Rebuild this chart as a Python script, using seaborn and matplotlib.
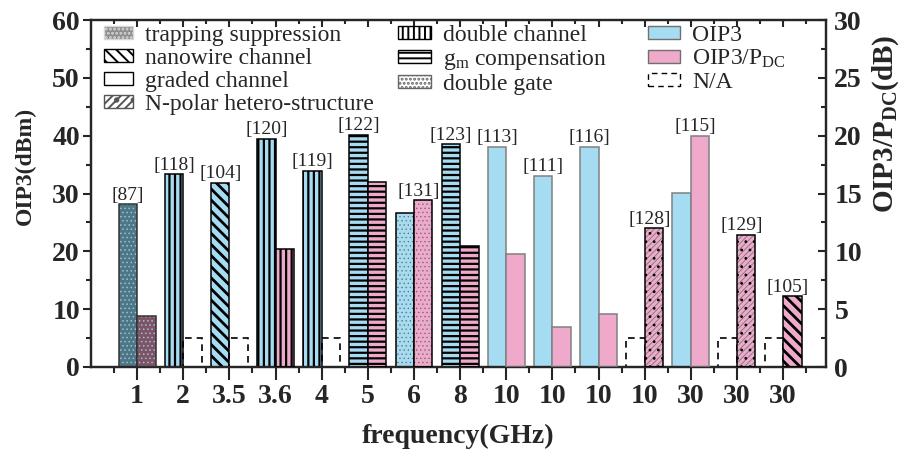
import numpy as np
import pandas as pd
import matplotlib
matplotlib.use("Agg")
import matplotlib.pyplot as plt
from matplotlib.patches import Patch, Rectangle
from matplotlib.ticker import MultipleLocator, FixedLocator
import seaborn as sns

# ---- data -------------------------------------------------------------
freq_labels = ["1", "2", "3.5", "3.6", "4", "5", "6", "8",
               "10", "10", "10", "10", "30", "30", "30"]
oip3_dbm = [28.1, 33.3, 31.8, 39.4, 33.9, 40.1, 26.7, 38.5,
            38.1, 33.0, 38.1, np.nan, 30.1, np.nan, np.nan]
oip3_pdc_db = [4.4, np.nan, np.nan, 10.2, np.nan, 16.0, 14.4, 10.5,
               9.8, 3.5, 4.6, 12.0, 20.0, 11.4, 6.1]
technique = ["trapping", "double_channel", "nanowire", "double_channel",
             "double_channel", "gm", "double_gate", "gm",
             "plain", "plain", "plain", "npolar", "plain", "npolar", "nanowire"]
ref_tags = ["[87]", "[118]", "[104]", "[120]", "[119]", "[122]", "[131]", "[123]",
            "[113]", "[111]", "[116]", "[128]", "[115]", "[129]", "[105]"]
tag_series = ["oip3", "oip3", "oip3", "oip3", "oip3", "oip3", "pdc", "oip3",
              "oip3", "oip3", "oip3", "pdc", "pdc", "pdc", "pdc"]
na_level_dbm = 5.0          # height of the dashed "N/A" placeholder (left scale)

# ---- style ------------------------------------------------------------
sns.set_style("ticks")
plt.rcParams["font.family"] = ["Liberation Serif", "DejaVu Serif"]
plt.rcParams["mathtext.fontset"] = "custom"
plt.rcParams["mathtext.rm"] = "Liberation Serif"
plt.rcParams["mathtext.it"] = "Liberation Serif:italic"
plt.rcParams["mathtext.bf"] = "Liberation Serif:bold"
plt.rcParams["hatch.linewidth"] = 1.4

BLUE = "#a6dcf2"
PINK = "#efa9cb"
DARK = {BLUE: "#4d7686", PINK: "#7d5367"}

# technique -> hatch, hatch colour, hatch width, second hatch, outline colour
STYLE = {
    "plain":          dict(hatch=None, hc="#808080", hlw=1.0, extra=None, outline="#808080"),
    "double_channel": dict(hatch="|||", hc="black", hlw=1.6, extra=None, outline="black"),
    "gm":             dict(hatch="---", hc="black", hlw=1.6, extra=None, outline="black"),
    "nanowire":       dict(hatch="\\\\\\", hc="black", hlw=2.0, extra=None, outline="black"),
    "trapping":       dict(hatch="....", hc="#9fc0cc", hlw=0.6, extra=None, outline="#333333"),
    "npolar":         dict(hatch="//////", hc="#777777", hlw=0.6, extra="..", outline="black"),
    "double_gate":    dict(hatch="....", hc="#666666", hlw=0.4, extra=None, outline="black"),
}

fig = plt.figure(figsize=(9.10, 4.49), dpi=100)
ax = fig.add_axes([91 / 910, 1 - 367 / 449, 735 / 910, 347 / 449])
ax2 = ax.twinx()

slots = np.arange(len(freq_labels))
left_x = slots - 0.2
right_x = slots + 0.2


def set_hatch_width(p, lw):
    if hasattr(p, "set_hatch_linewidth"):
        p.set_hatch_linewidth(lw)


def draw_series(axis, xpos, values, color, shift):
    frame = pd.DataFrame({"x": xpos, "v": values}).dropna()
    sns.barplot(data=frame, x="x", y="v", native_scale=True, width=0.4,
                color=color, saturation=1, errorbar=None, ax=axis, linewidth=0)
    for p in list(axis.patches):
        k = int(round(p.get_x() + p.get_width() / 2 - shift))
        st = STYLE[technique[k]]
        face = DARK[color] if technique[k] == "trapping" else color
        p.set_facecolor(face)
        p.set_linewidth(0)
        if st["hatch"]:
            p.set_hatch(st["hatch"])
            p.set_edgecolor(st["hc"])
            p.set_linewidth(0)
            set_hatch_width(p, st["hlw"])
        p.set_zorder(2)
        if st["extra"]:
            over = Rectangle((p.get_x(), p.get_y()), p.get_width(), p.get_height(),
                             fill=False, hatch=st["extra"], edgecolor="black",
                             linewidth=0, zorder=3)
            set_hatch_width(over, 0.8)
            axis.add_patch(over)
        outline = Rectangle((p.get_x(), p.get_y()), p.get_width(), p.get_height(),
                            fill=False, edgecolor=st["outline"], linewidth=1.1, zorder=4)
        axis.add_patch(outline)


def draw_missing(axis, xpos, values, level):
    frame = pd.DataFrame({"x": xpos, "v": values})
    frame = frame[frame["v"].isna()].assign(v=level)
    n_before = len(axis.patches)
    sns.barplot(data=frame, x="x", y="v", native_scale=True, width=0.4,
                color="black", fill=False, errorbar=None, ax=axis, linewidth=1.2)
    for p in axis.patches[n_before:]:
        p.set_linestyle((0, (4, 3)))
        p.set_edgecolor("black")
        p.set_facecolor("none")


draw_series(ax, left_x, oip3_dbm, BLUE, -0.2)
draw_series(ax2, right_x, oip3_pdc_db, PINK, 0.2)
draw_missing(ax, left_x, oip3_dbm, na_level_dbm)
draw_missing(ax2, right_x, oip3_pdc_db, na_level_dbm / 2)

# reference tags above bars
for k, tag in enumerate(ref_tags):
    if tag_series[k] == "oip3":
        ax.annotate(tag, (left_x[k], oip3_dbm[k]), xytext=(0, 0.5),
                    textcoords="offset points", ha="center", va="bottom",
                    fontsize=14, zorder=6)
    else:
        ax2.annotate(tag, (right_x[k] - 0.1, oip3_pdc_db[k]), xytext=(0, 0.5),
                     textcoords="offset points", ha="center", va="bottom",
                     fontsize=14, zorder=6)

# ---- axes -------------------------------------------------------------
ax.set_xlim(-1.0, 14.93)
ax.set_ylim(0, 60)
ax2.set_ylim(0, 30)

ax.set_xticks(slots, labels=freq_labels, fontsize=20, fontweight="bold")
ax.xaxis.set_minor_locator(FixedLocator(np.append(slots - 0.5, slots[-1] + 0.5)))
ax.set_yticks(np.arange(0, 61, 10), labels=[str(v) for v in range(0, 61, 10)],
              fontsize=20, fontweight="bold")
ax.yaxis.set_minor_locator(MultipleLocator(5))
ax2.set_yticks(np.arange(0, 31, 5), labels=[str(v) for v in range(0, 31, 5)],
               fontsize=20, fontweight="bold")
ax2.yaxis.set_minor_locator(MultipleLocator(2.5))

ax.tick_params(axis="x", which="major", direction="out", length=9, width=1.5, pad=3)
ax.tick_params(axis="x", which="minor", direction="out", length=4, width=1.5)
ax.tick_params(axis="y", which="major", direction="out", length=6, width=1.5, pad=2)
ax.tick_params(axis="y", which="minor", direction="out", length=3.5, width=1.5)
ax2.tick_params(axis="y", which="major", direction="in", length=6, width=1.5, pad=6)
ax2.tick_params(axis="y", which="minor", direction="in", length=3.5, width=1.5)

ax2.xaxis.set_visible(True)
ax2.tick_params(axis="x", which="both", bottom=False, top=True, labelbottom=False,
                labeltop=False, direction="in", width=1.5)
ax2.tick_params(axis="x", which="major", length=5)
ax2.tick_params(axis="x", which="minor", length=3)
ax2.set_xlabel("")

for a in (ax, ax2):
    for s in a.spines.values():
        s.set_linewidth(1.6)
        s.set_visible(True)

ax.set_xlabel("frequency(GHz)", fontsize=20, fontweight="bold", labelpad=11)
ax.set_ylabel("OIP3(dBm)", fontsize=17, fontweight="bold")
ax.yaxis.set_label_coords(-0.075, 0.58)
ax2.set_ylabel(r"OIP3/P$_{\mathbf{DC}}$(dB)", fontsize=21, fontweight="bold")
ax2.yaxis.set_label_coords(1.06, 0.70)

# ---- legends ------------------------------------------------------------
legend_kw = dict(frameon=False, loc="upper left", borderpad=0, borderaxespad=0,
                 fontsize=17, labelspacing=0.08, handletextpad=0.5,
                 handleheight=0.47, bbox_transform=fig.transFigure)

col1 = [
    Patch(facecolor="#8c8c8c", edgecolor="#d6d6d6", hatch="....", label="trapping suppression"),
    Patch(facecolor="white", edgecolor="black", hatch="\\\\\\", label="nanowire channel"),
    Patch(facecolor="white", edgecolor="black", label="graded channel"),
    Patch(facecolor="white", edgecolor="#555555", hatch="////.", label="N-polar hetero-structure"),
]
col2 = [
    Patch(facecolor="white", edgecolor="black", hatch="|||", label="double channel"),
    Patch(facecolor="white", edgecolor="black", hatch="---", label=r"g$_\mathrm{m}$ compensation"),
    Patch(facecolor="white", edgecolor="#666666", hatch="....", label="double gate"),
]
col3 = [
    Patch(facecolor=BLUE, edgecolor="#707070", label="OIP3"),
    Patch(facecolor=PINK, edgecolor="#707070", label=r"OIP3/P$_\mathrm{DC}$"),
    Patch(facecolor="white", edgecolor="black", linestyle=(0, (4, 3)), label="N/A"),
]
anchor_y = 1 - 25 / 449
leg1 = ax2.legend(handles=col1, bbox_to_anchor=(104 / 910, anchor_y),
                  handlelength=1.23, **legend_kw)
ax2.add_artist(leg1)
leg2 = ax2.legend(handles=col2, bbox_to_anchor=(398 / 910, anchor_y),
                  handlelength=1.4, **legend_kw)
ax2.add_artist(leg2)
leg3 = ax2.legend(handles=col3, bbox_to_anchor=(648 / 910, anchor_y),
                  handlelength=1.36, **legend_kw)

fig.savefig("out.png", dpi=100)
